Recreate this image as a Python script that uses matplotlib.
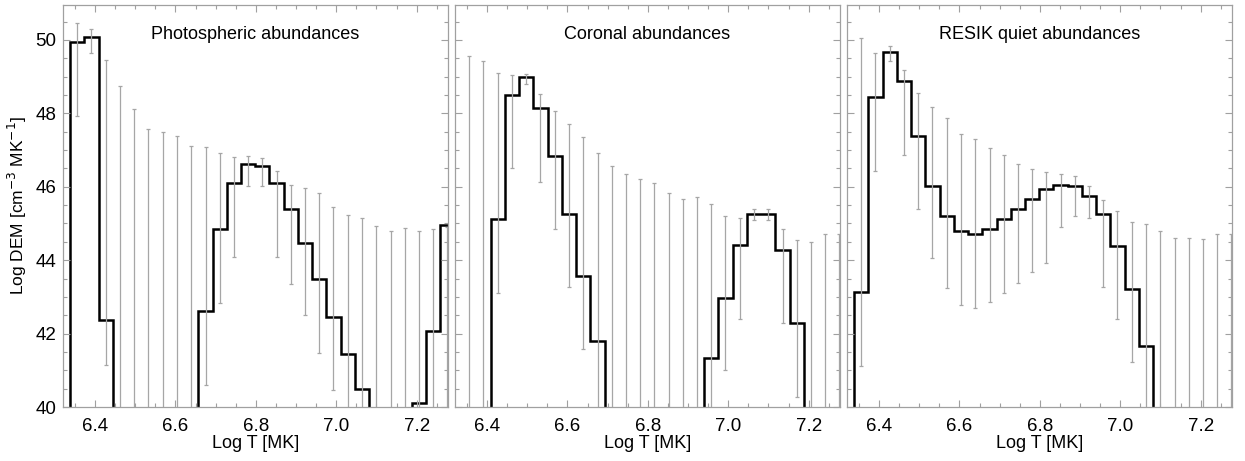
import numpy as np
import matplotlib
matplotlib.use("Agg")
import matplotlib.pyplot as plt
from matplotlib.ticker import MultipleLocator

plt.rcParams['font.family'] = ['Liberation Sans', 'DejaVu Sans']

# ------------------------------
# data; 30 = below plot range
# ------------------------------
logt = [6.356, 6.391, 6.427, 6.462, 6.498, 6.533, 6.568, 6.604, 6.639,
        6.675, 6.710, 6.745, 6.781, 6.816, 6.852, 6.887, 6.922, 6.958,
        6.993, 7.029, 7.064, 7.099, 7.135, 7.170, 7.206, 7.241, 7.276]

titles = ["Photospheric abundances", "Coronal abundances", "RESIK quiet abundances"]

dem_phot = [49.95, 50.07, 42.38, 30, 30, 30, 30, 30, 30,
            42.62, 44.84, 46.11, 46.61, 46.56, 46.11, 45.38, 44.48, 43.50,
            42.45, 41.45, 40.50, 30, 30, 30, 40.11, 42.06, 44.97]
hi_phot = [50.47, 50.29, 49.45, 48.75, 48.12, 47.56, 47.50, 47.38, 47.12,
           47.09, 46.91, 46.82, 46.85, 46.77, 46.44, 46.05, 45.97, 45.82,
           45.45, 45.23, 45.16, 44.94, 44.79, 44.88, 44.79, 44.86, 44.90]
lo_phot = [47.93, 49.64, 41.14, 30, 30, 30, 30, 30, 30,
           40.59, 42.84, 44.09, 46.02, 46.03, 44.09, 43.36, 42.50, 41.48,
           40.45, 30, 30, 30, 30, 30, 30, 30, 30]

dem_cor = [30, 30, 45.11, 48.50, 48.98, 48.14, 46.84, 45.27, 43.57,
           41.79, 30, 30, 30, 30, 30, 30, 30, 41.34,
           42.97, 44.41, 45.27, 45.27, 44.29, 42.29, 30, 30, 30]
hi_cor = [49.57, 49.43, 49.09, 49.03, 49.07, 48.53, 48.06, 47.70, 47.36,
          46.91, 46.56, 46.36, 46.21, 46.09, 45.82, 45.66, 45.73, 45.53,
          45.20, 45.14, 45.39, 45.39, 44.86, 44.55, 44.50, 44.70, 44.70]
lo_cor = [30, 30, 43.11, 46.50, 48.80, 46.14, 44.84, 43.27, 41.57,
          30, 30, 30, 30, 30, 30, 30, 30, 30,
          41.00, 42.41, 45.09, 45.09, 42.29, 40.27, 30, 30, 30]

dem_res = [43.12, 48.44, 49.68, 48.88, 47.38, 46.03, 45.20, 44.79, 44.70,
           44.86, 45.11, 45.39, 45.66, 45.93, 46.06, 46.03, 45.75, 45.25,
           44.39, 43.21, 41.66, 30, 30, 30, 30, 30, 30]
hi_res = [50.05, 49.65, 49.84, 49.18, 48.55, 48.18, 47.86, 47.44, 47.29,
          47.06, 46.86, 46.61, 46.48, 46.39, 46.34, 46.29, 46.02, 45.65,
          45.34, 45.03, 44.98, 44.80, 44.59, 44.59, 44.57, 44.70, 44.70]
lo_res = [41.12, 46.44, 49.43, 46.86, 45.38, 44.05, 43.23, 42.79, 42.71,
          42.86, 43.11, 43.39, 43.68, 43.93, 44.89, 45.21, 45.16, 43.27,
          42.41, 41.23, 30, 30, 30, 30, 30, 30, 30]

panels = [(dem_phot, lo_phot, hi_phot),
          (dem_cor, lo_cor, hi_cor),
          (dem_res, lo_res, hi_res)]

W, H = 1245, 461
fig = plt.figure(figsize=(W / 100, H / 100), dpi=100)

lefts = [63, 455, 847]
axw = 385
bot, top = 407, 5

t = np.array(logt)
half = (t[1] - t[0]) / 2
edges = np.concatenate([[t[0] - half], (t[:-1] + t[1:]) / 2, [t[-1] + half]])

grey = "#a6a6a6"
for i, (dem, lo, hi) in enumerate(panels):
    ax = fig.add_axes([lefts[i] / W, (H - bot) / H, axw / W, (bot - top) / H])
    lo = np.array(lo)
    hi = np.array(hi)
    ax.errorbar(t, (lo + hi) / 2, yerr=(hi - lo) / 2, fmt="none",
                ecolor=grey, elinewidth=0.9, capsize=1.3, capthick=0.9)
    ax.stairs(dem, edges, color="black", lw=1.8, baseline=30)

    ax.set_xlim(6.3204, 7.278)
    ax.set_ylim(40, 50.95)
    ax.xaxis.set_major_locator(MultipleLocator(0.2))
    ax.xaxis.set_minor_locator(MultipleLocator(0.05))
    ax.yaxis.set_major_locator(MultipleLocator(2))
    ax.yaxis.set_minor_locator(MultipleLocator(0.5))
    ax.tick_params(which="both", direction="in", top=True, right=True,
                   color="#a0a0a0", labelsize=13.5)
    ax.tick_params(which="major", length=5, width=0.8)
    ax.tick_params(which="minor", length=3, width=0.8)
    ax.tick_params(axis="x", pad=8)
    ax.tick_params(axis="y", pad=5)
    for s in ax.spines.values():
        s.set_color("#a0a0a0")
        s.set_linewidth(0.9)
    if i > 0:
        ax.set_yticklabels([])
    else:
        ax.set_ylabel("Log DEM [cm$^{-3}$ MK$^{-1}$]", fontsize=12.5, labelpad=4)
    ax.set_xlabel("Log T [MK]", fontsize=13, labelpad=0)
    ax.text(0.5, 1 - 30 / (bot - top), titles[i], transform=ax.transAxes,
            ha="center", va="center", fontsize=13)

plt.savefig("out.png", dpi=100)
plt.close()
